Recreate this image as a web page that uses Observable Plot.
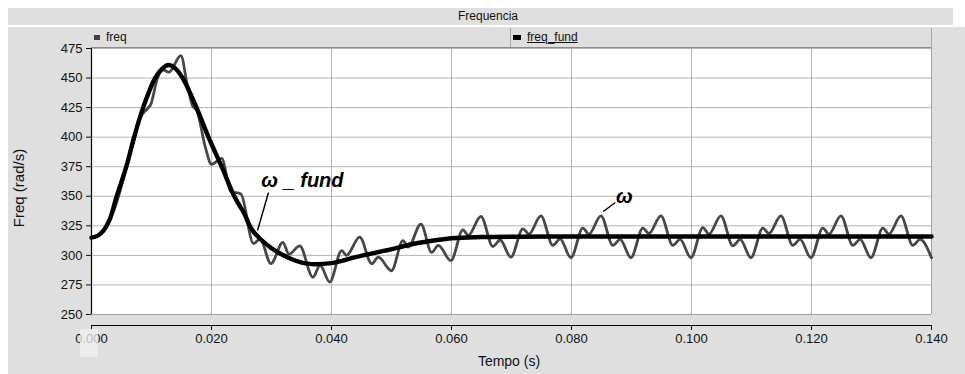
<!DOCTYPE html>
<html><head><meta charset="utf-8">
<script src="https://cdn.jsdelivr.net/npm/d3@7"></script>
<script src="https://cdn.jsdelivr.net/npm/@observablehq/plot@0.6"></script>
<style>
html,body{margin:0;padding:0;background:#fff;}
#wrap{position:relative;width:965px;height:374px;overflow:hidden;font-family:"Liberation Sans",Arial,sans-serif;color:#111;}
.bg{position:absolute;background:#dfdfdf;}
.ln{position:absolute;}
.txt{position:absolute;white-space:nowrap;}
#chart{position:absolute;left:0;top:0;}
</style></head><body>
<div id="wrap">
  <div class="bg" style="left:8px;top:8px;width:945px;height:17px"></div>
  <div class="bg" style="left:8px;top:27px;width:957px;height:347px"></div>
  <div class="ln" style="left:91px;top:47px;width:840px;height:1px;background:#8c8c8c"></div>
  <div class="ln" style="left:510px;top:28px;width:1px;height:19px;background:#a8a8a8"></div>
  <div class="ln" style="left:931px;top:28px;width:1px;height:20px;background:#a8a8a8"></div>
  <div id="chart"></div>
  <div class="txt" style="left:458px;top:9px;font-size:12px;line-height:15px">Frequencia</div>
  <div class="ln" style="left:94px;top:35px;width:6px;height:5px;background:#404040"></div>
  <div class="txt" style="left:106px;top:30px;font-size:12px;line-height:15px">freq</div>
  <div class="ln" style="left:513px;top:35px;width:8px;height:5px;background:#000"></div>
  <div class="txt" style="left:527px;top:30px;font-size:12px;line-height:15px;text-decoration:underline">freq_fund</div>
  <div class="txt" style="left:18px;top:188px;font-size:15px;line-height:17px;transform:translate(-50%,-50%) rotate(-90deg)">Freq (rad/s)</div>
  <div class="txt" style="left:509px;top:361px;font-size:14px;line-height:16px;transform:translate(-50%,-50%)">Tempo (s)</div>
  <div class="ln" style="left:80px;top:329px;width:18px;height:28px;background:rgba(240,240,240,0.75)"></div>
</div>
<script>
const xTicks = [0, 0.02, 0.04, 0.06, 0.08, 0.10, 0.12, 0.14];
const yTicks = [250, 275, 300, 325, 350, 375, 400, 425, 450, 475];

const timeFreq = [0, 0.001, 0.002, 0.003, 0.004, 0.0049, 0.006, 0.0069, 0.0081, 0.0093, 0.0099, 0.0110, 0.0119, 0.0129,
  0.0149, 0.0160, 0.0168, 0.0176, 0.0190, 0.0200, 0.0217, 0.0232, 0.0249,
  0.0270, 0.0281, 0.0299, 0.0319, 0.0329, 0.0347,
  0.0369, 0.0381, 0.0397, 0.0417, 0.0425, 0.0447,
  0.0467, 0.0478, 0.0500, 0.0519, 0.0528, 0.0549,
  0.0567, 0.0578, 0.0599, 0.0619, 0.0628, 0.0649,
  0.0669, 0.0681, 0.0699, 0.0719, 0.0729, 0.0749,
  0.0769, 0.0781, 0.0799, 0.0819, 0.0829, 0.0849,
  0.0869, 0.0881, 0.0899, 0.0919, 0.0929, 0.0949,
  0.0969, 0.0981, 0.0999, 0.1019, 0.1029, 0.1049,
  0.1069, 0.1081, 0.1099, 0.1119, 0.1129, 0.1149,
  0.1169, 0.1181, 0.1199, 0.1219, 0.1229, 0.1249,
  0.1269, 0.1281, 0.1299, 0.1319, 0.1329, 0.1349,
  0.1369, 0.1381, 0.1400];
const freq = [315, 316.5, 321, 329, 342, 357, 378, 394, 416, 424, 428, 450, 457, 455,
  469, 443, 427, 422, 391, 377, 382, 354, 352,
  310, 314, 293, 311, 301, 308,
  281.5, 291.5, 277.5, 304, 300, 315.5,
  293, 298.5, 287, 312.5, 307, 326.5,
  302.5, 308.5, 295.5, 321.5, 317, 333,
  307.5, 313, 298.5, 322.5, 318, 333.5,
  308.5, 314, 298, 323, 318, 333.5,
  308.5, 313.5, 298, 323, 318.5, 333.5,
  308.5, 313.5, 298, 323.5, 318, 333.5,
  308, 313.5, 298, 323, 318.5, 333.5,
  308.5, 313.5, 298, 323, 318, 333.5,
  308.5, 313.5, 298, 323, 318, 333.5,
  308.5, 313.5, 298];

const timeFund = [0, 0.001, 0.002, 0.003, 0.0042, 0.0058, 0.0071, 0.0086, 0.0106, 0.0118, 0.0128, 0.0138, 0.0152,
  0.0175, 0.0195, 0.0217, 0.0238, 0.0255, 0.0267, 0.030, 0.0333, 0.036, 0.040, 0.044, 0.0489, 0.0544,
  0.060, 0.065, 0.080, 0.100, 0.120, 0.140];
const freqFund = [315, 316.5, 321, 330, 350, 375, 400, 425, 450, 458, 461, 459, 450,
  425, 400, 375, 350, 335, 322, 306, 297, 293, 293.5, 298.5, 304, 310.5,
  314.5, 315.5, 316, 316, 316, 316];

const freqData = timeFreq.map((t, i) => ({t, v: freq[i]}));
const fundData = timeFund.map((t, i) => ({t, v: freqFund[i]}));

const plot = Plot.plot({
  width: 965, height: 374,
  marginLeft: 91, marginRight: 34, marginTop: 48, marginBottom: 60,
  style: {background: "transparent", color: "#111", fontFamily: "'Liberation Sans', Arial, sans-serif", fontSize: "13px", overflow: "visible"},
  x: {domain: [0, 0.14]},
  y: {domain: [250, 475]},
  marks: [
    Plot.frame({fill: "white", stroke: "none"}),
    Plot.gridX(xTicks, {stroke: "#b4b4b4", strokeOpacity: 1}),
    Plot.gridY(yTicks, {stroke: "#b4b4b4", strokeOpacity: 1}),
    Plot.ruleX([0.14], {stroke: "#a0a0a0"}),
    Plot.ruleY([250], {stroke: "#a0a0a0"}),
    Plot.axisY(yTicks, {tickSize: 5, tickPadding: 4, label: null, fontSize: 13}),
    Plot.ruleX([0], {stroke: "black", strokeWidth: 1.2}),
    Plot.axisX(xTicks, {dy: 11, tickSize: 5, tickPadding: 3, label: null, fontSize: 13, tickFormat: d3.format(".3f")}),
    Plot.ruleY([250], {dy: 11, stroke: "black", strokeWidth: 1.2}),
    Plot.line(freqData, {x: "t", y: "v", stroke: "#474747", strokeWidth: 2.8, curve: "monotone-x"}),
    Plot.line(fundData, {x: "t", y: "v", stroke: "black", strokeWidth: 4.4, curve: "catmull-rom"}),
    Plot.link([{x1: 0.0295, y1: 353.2, x2: 0.02767, y2: 321.0}, {x1: 0.0873, y1: 344.7, x2: 0.0853, y2: 337.1}],
      {x1: "x1", y1: "y1", x2: "x2", y2: "y2", stroke: "black", strokeWidth: 1.4}),
    Plot.text([{t: 0.0283, v: 363.3, s: "ω _ fund"}], {x: "t", y: "v", text: "s", textAnchor: "start", fontSize: 20, fontWeight: "bold", fontStyle: "italic", fill: "black"}),
    Plot.text([{t: 0.0888, v: 349.4, s: "ω"}], {x: "t", y: "v", text: "s", textAnchor: "middle", fontSize: 20, fontWeight: "bold", fontStyle: "italic", fill: "black"})
  ]
});
document.getElementById("chart").appendChild(plot);
</script>
</body></html>
